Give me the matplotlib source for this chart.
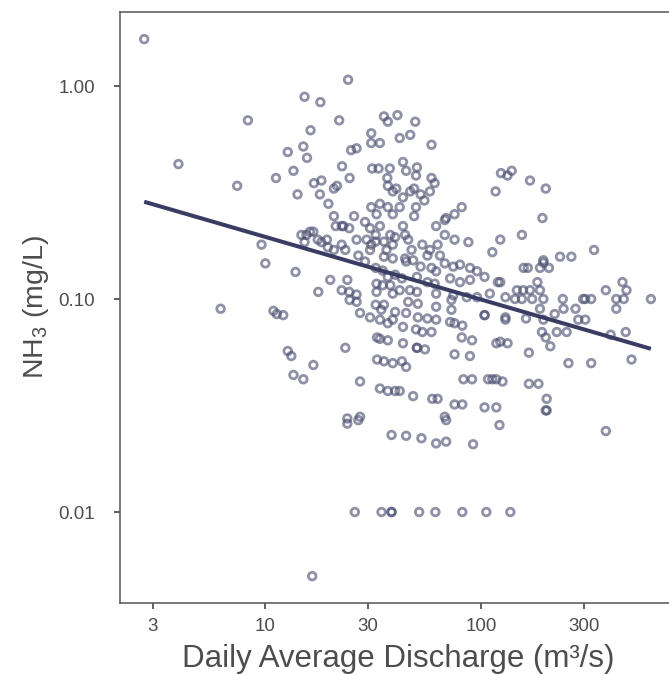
import numpy as np
import matplotlib
matplotlib.use("Agg")
import matplotlib.pyplot as plt
from matplotlib.ticker import FixedLocator, FixedFormatter, NullLocator

plt.rcParams['font.family'] = ['Liberation Sans', 'DejaVu Sans']
plt.rcParams['mathtext.default'] = 'regular'

# daily average discharge (m3/s) and NH3 (mg/L)
discharge = [
	2.74, 8.3, 3.95, 15.2, 12.7, 15.0, 13.5, 11.2, 7.4, 14.1,
	9.6, 10.0, 13.8, 6.2, 10.9, 11.3, 12.1, 12.7, 13.2, 13.5,
	15.0, 16.5, 24.2, 18.0, 22.0, 16.2, 15.6, 35.5, 37.0, 41.0,
	49.6, 31.0, 42.0, 47.0, 25.0, 26.5, 31.0, 34.0, 22.7, 24.6,
	31.3, 33.5, 37.8, 43.5, 45.0, 50.5, 50.0, 36.8, 37.0, 39.0,
	49.0, 52.5, 16.8, 18.2, 20.8, 21.5, 17.9, 59.0, 59.0, 61.0,
	58.0, 124, 133, 139, 169, 200, 117, 193, 155, 123,
	335, 233, 263, 195, 195, 158, 165, 188, 207, 123,
	147, 157, 169, 183, 188, 130, 144, 155, 173, 195,
	240, 298, 305, 325, 380, 454, 474, 425, 460, 615,
	425, 130, 130, 162, 188, 242, 275, 220, 283, 305,
	195, 192, 200, 225, 250, 210, 133, 167, 400, 470,
	255, 325, 500, 126, 167, 185, 202, 200, 202, 380,
	24.0, 27.0, 69, 122, 38.5, 45.0, 53.0, 62.0, 69.0, 92.0,
	26.0, 34.6, 38.5, 38.5, 51.7, 61.5, 82, 106, 137,
	19.6, 20.8, 25.8, 23.0, 31.0, 34.0, 37.0, 32.8, 39.0, 29.0,
	30.6, 34.0, 32.5, 26.5, 29.5, 22.6, 24.5, 21.2, 16.1, 16.7,
	15.5, 17.5, 19.3, 14.7, 15.2, 18.2, 19.5, 20.8, 23.5, 27.0,
	22.6, 31.0, 32.5, 35.5, 30.6, 36.5, 35.5, 39.0, 38.0, 40.0,
	39.0, 29.0, 32.5, 35.0, 40.0, 37.0, 20.0, 24.0, 17.6, 22.6,
	24.5, 26.5, 32.8, 35.0, 38.0, 32.8, 39.0, 50.0, 49.0, 81.5,
	75.5, 69.0, 42.0, 62.0, 68.0, 68.0, 75.5, 87.5, 43.5, 44.5,
	46.0, 47.7, 45.0, 53.5, 58.0, 56.5, 63.0, 64.6, 113, 68.0,
	74.5, 80.0, 89.0, 96.0, 52.5, 59.0, 62.0, 44.5, 48.5, 72.0,
	80.0, 89.0, 104, 120, 43.0, 42.0, 50.5, 56.5, 61.0, 46.9,
	50.5, 62.0, 74.5, 86.0, 96.0, 110, 23.5, 16.7, 27.5, 27.5,
	24.0, 27.5, 30.6, 32.5, 35.5, 34.5, 34.0, 37.0, 39.0, 40.0,
	33.0, 34.0, 37.0, 33.0, 35.5, 39.0, 34.0, 37.0, 40.0, 24.6,
	26.5, 46.0, 51.0, 62.0, 73.0, 45.0, 51.0, 56.5, 62.0, 72.0,
	75.5, 82.0, 73.0, 104, 104, 43.5, 50.0, 53.5, 59.0, 43.5,
	50.5, 50.5, 55.0, 81.5, 91.0, 118, 75.5, 89.0, 43.0, 45.0,
	83.0, 91.0, 108, 113, 118, 42.0, 48.5, 59.5, 63.0, 75.5,
	82.0, 104, 118, 68.0, 123, 43.5, 47.0, 40.5, 54.7,
]
nh3 = [
	1.66, 0.69, 0.43, 0.89, 0.49, 0.52, 0.40, 0.37, 0.34, 0.31,
	0.18, 0.147, 0.134, 0.09, 0.088, 0.085, 0.084, 0.057, 0.054, 0.044,
	0.042, 0.005, 1.07, 0.84, 0.69, 0.62, 0.46, 0.72, 0.68, 0.73,
	0.68, 0.60, 0.57, 0.59, 0.50, 0.51, 0.54, 0.54, 0.42, 0.37,
	0.41, 0.41, 0.41, 0.44, 0.40, 0.415, 0.38, 0.37, 0.34, 0.32,
	0.33, 0.31, 0.35, 0.36, 0.33, 0.34, 0.31, 0.53, 0.37, 0.35,
	0.32, 0.39, 0.38, 0.40, 0.36, 0.33, 0.32, 0.24, 0.20, 0.19,
	0.17, 0.158, 0.158, 0.152, 0.148, 0.14, 0.14, 0.14, 0.14, 0.12,
	0.11, 0.11, 0.11, 0.12, 0.11, 0.102, 0.10, 0.10, 0.10, 0.10,
	0.10, 0.10, 0.10, 0.10, 0.11, 0.12, 0.11, 0.10, 0.10, 0.10,
	0.09, 0.082, 0.08, 0.081, 0.09, 0.09, 0.09, 0.085, 0.08, 0.08,
	0.08, 0.07, 0.066, 0.07, 0.07, 0.06, 0.062, 0.056, 0.068, 0.07,
	0.05, 0.05, 0.052, 0.041, 0.04, 0.04, 0.034, 0.03, 0.03, 0.024,
	0.026, 0.027, 0.027, 0.0256, 0.023, 0.0228, 0.0222, 0.021, 0.0214, 0.0208,
	0.01, 0.01, 0.01, 0.01, 0.01, 0.01, 0.01, 0.01, 0.01,
	0.28, 0.245, 0.245, 0.22, 0.27, 0.28, 0.27, 0.25, 0.25, 0.23,
	0.215, 0.22, 0.20, 0.19, 0.19, 0.22, 0.215, 0.22, 0.207, 0.207,
	0.20, 0.19, 0.19, 0.20, 0.185, 0.185, 0.175, 0.17, 0.17, 0.16,
	0.18, 0.18, 0.186, 0.186, 0.17, 0.17, 0.158, 0.155, 0.20, 0.195,
	0.18, 0.15, 0.14, 0.136, 0.13, 0.127, 0.123, 0.123, 0.108, 0.11,
	0.108, 0.105, 0.118, 0.116, 0.116, 0.108, 0.106, 0.27, 0.245, 0.27,
	0.25, 0.24, 0.27, 0.22, 0.235, 0.20, 0.19, 0.185, 0.22, 0.20,
	0.19, 0.17, 0.15, 0.18, 0.17, 0.16, 0.18, 0.16, 0.166, 0.147,
	0.142, 0.145, 0.14, 0.135, 0.142, 0.14, 0.135, 0.155, 0.152, 0.125,
	0.12, 0.123, 0.127, 0.12, 0.125, 0.11, 0.127, 0.12, 0.118, 0.11,
	0.108, 0.106, 0.104, 0.102, 0.102, 0.106, 0.059, 0.049, 0.041, 0.028,
	0.0275, 0.086, 0.082, 0.094, 0.094, 0.089, 0.08, 0.077, 0.08, 0.087,
	0.066, 0.065, 0.064, 0.052, 0.051, 0.05, 0.038, 0.037, 0.037, 0.099,
	0.097, 0.097, 0.095, 0.092, 0.099, 0.086, 0.082, 0.081, 0.08, 0.078,
	0.077, 0.075, 0.089, 0.084, 0.084, 0.074, 0.072, 0.07, 0.07, 0.062,
	0.059, 0.059, 0.058, 0.066, 0.064, 0.062, 0.055, 0.054, 0.051, 0.048,
	0.042, 0.042, 0.042, 0.042, 0.042, 0.037, 0.035, 0.034, 0.034, 0.032,
	0.032, 0.031, 0.031, 0.028, 0.063, 0.30, 0.32, 0.33, 0.29,
]

xticks = [3, 10, 30, 100, 300]
xticklabels = ['3', '10', '30', '100', '300']
yticks = [0.01, 0.1, 1.0]
yticklabels = ['0.01', '0.10', '1.00']

x = np.array(discharge)
y = np.array(nh3)

fig = plt.figure(figsize=(6.69, 6.74), dpi=100)
# right edge of the panel runs past the picture, as in the reference
ax = fig.add_axes([0.1794, 0.1053, 0.831, 0.8769])

ax.scatter(x, y, s=30, facecolors='none', edgecolors='#4a4e70',
	linewidths=2.0, alpha=0.62, zorder=2)

# linear fit in log-log space
b, a = np.polyfit(np.log10(x), np.log10(y), 1)
xl = np.array([x.min(), x.max()])
ax.plot(xl, 10**(a + b*np.log10(xl)), color='#3a3d63', lw=2.9, zorder=3,
	solid_capstyle='butt')

ax.set_xscale('log')
ax.set_yscale('log')
ax.set_xlim(2.116, 804)
ax.set_ylim(0.003739, 2.226)

ax.xaxis.set_major_locator(FixedLocator(xticks))
ax.xaxis.set_major_formatter(FixedFormatter(xticklabels))
ax.yaxis.set_major_locator(FixedLocator(yticks))
ax.yaxis.set_major_formatter(FixedFormatter(yticklabels))
ax.xaxis.set_minor_locator(NullLocator())
ax.yaxis.set_minor_locator(NullLocator())

for sp in ax.spines.values():
	sp.set_color('#555555')
	sp.set_linewidth(1.1)

ax.tick_params(axis='both', length=4, width=1.1, color='#333333',
	labelcolor='#4d4d4d', labelsize=13.5)
ax.tick_params(axis='x', pad=7)
ax.tick_params(axis='y', pad=14)

ax.set_xlabel('Daily Average Discharge (m³/s)', fontsize=22.5, color='#4d4d4d',
	labelpad=6)
ax.set_ylabel('NH$_3$ (mg/L)', fontsize=20.5, color='#4d4d4d', labelpad=5)

fig.savefig('out.png', dpi=100)
